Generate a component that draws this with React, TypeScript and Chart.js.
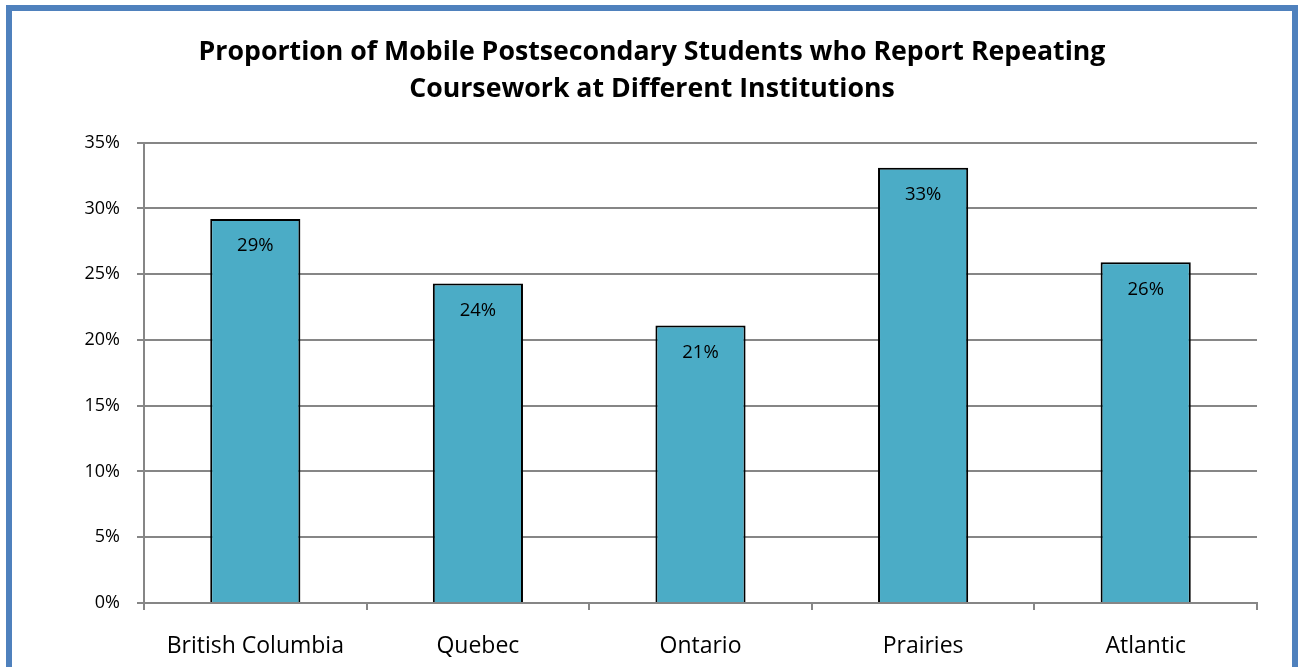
import React, { useEffect, useRef } from "react";
import { Chart, registerables } from "chart.js";

Chart.register(...registerables);

const categories = ["British Columbia", "Quebec", "Ontario", "Prairies", "Atlantic"];
const values = [29.2, 24.3, 21.1, 33.1, 25.9];
const yTicks = [0, 5, 10, 15, 20, 25, 30, 35];
const titleLines = [
  "Proportion of Mobile Postsecondary Students who Report Repeating",
  "Coursework at Different Institutions",
];

const FONT = "'Open Sans', 'DejaVu Sans', sans-serif";

const dataLabels = {
  id: "dataLabels",
  afterDatasetsDraw(chart: any) {
    const ctx = chart.ctx;
    const meta = chart.getDatasetMeta(0);
    ctx.save();
    ctx.font = `18.5px ${FONT}`;
    ctx.fillStyle = "#000";
    ctx.textAlign = "center";
    ctx.textBaseline = "middle";
    meta.data.forEach((el: any, i: number) => {
      ctx.fillText(Math.round(values[i]) + "%", el.x, el.y + 27);
    });
    ctx.restore();
  },
};

export default function App() {
  const ref = useRef<HTMLCanvasElement>(null);
  useEffect(() => {
    if (!ref.current) return;
    const chart = new Chart(ref.current, {
      type: "bar",
      data: {
        labels: categories,
        datasets: [
          {
            data: values,
            backgroundColor: "#4BACC6",
            borderColor: "#000000",
            borderWidth: 2,
            barPercentage: 0.405,
            categoryPercentage: 1,
          },
        ],
      },
      options: {
        responsive: false,
        animation: false,
        devicePixelRatio: 1,
        layout: { padding: { left: 47, right: 41, top: 0, bottom: 0 } },
        plugins: {
          legend: { display: false },
          tooltip: { enabled: false },
          title: {
            display: true,
            text: titleLines,
            color: "#000",
            font: { family: FONT, size: 26.7, weight: "bold", lineHeight: 1.38 },
            padding: { top: 34, bottom: 35 },
          },
        },
        scales: {
          x: {
            grid: {
              offset: true,
              drawOnChartArea: false,
              drawTicks: true,
              tickLength: 7,
              color: "#868686",
              lineWidth: 2,
            },
            border: { color: "#868686", width: 2 },
            ticks: {
              color: "#000",
              font: { family: FONT, size: 23 },
              padding: 23,
              maxRotation: 0,
            },
            afterFit(scale: any) {
              scale.height = 64;
            },
          },
          y: {
            min: 0,
            max: 35,
            afterBuildTicks(scale: any) {
              scale.ticks = yTicks.map((v) => ({ value: v }));
            },
            grid: {
              color: "#868686",
              lineWidth: 2,
              tickLength: 7,
              drawTicks: true,
            },
            border: { color: "#868686", width: 2 },
            ticks: {
              color: "#000",
              font: { family: FONT, size: 18 },
              padding: 17,
              callback: (v: any) => v + "%",
            },
            afterFit(scale: any) {
              scale.width = 97;
            },
          },
        },
      },
      plugins: [dataLabels],
    });
    return () => chart.destroy();
  }, []);

  return (
    <div style={{ position: "absolute", left: 0, top: 0, width: 1298, height: 667, overflow: "hidden", background: "#fff" }}>
      <div
        style={{
          position: "absolute",
          left: 6,
          top: 5,
          width: 1280,
          height: 700,
          border: "6px solid #4F81BD",
        }}
      />
      <canvas ref={ref} width={1298} height={667} style={{ position: "absolute", left: 0, top: 0 }} />
    </div>
  );
}
